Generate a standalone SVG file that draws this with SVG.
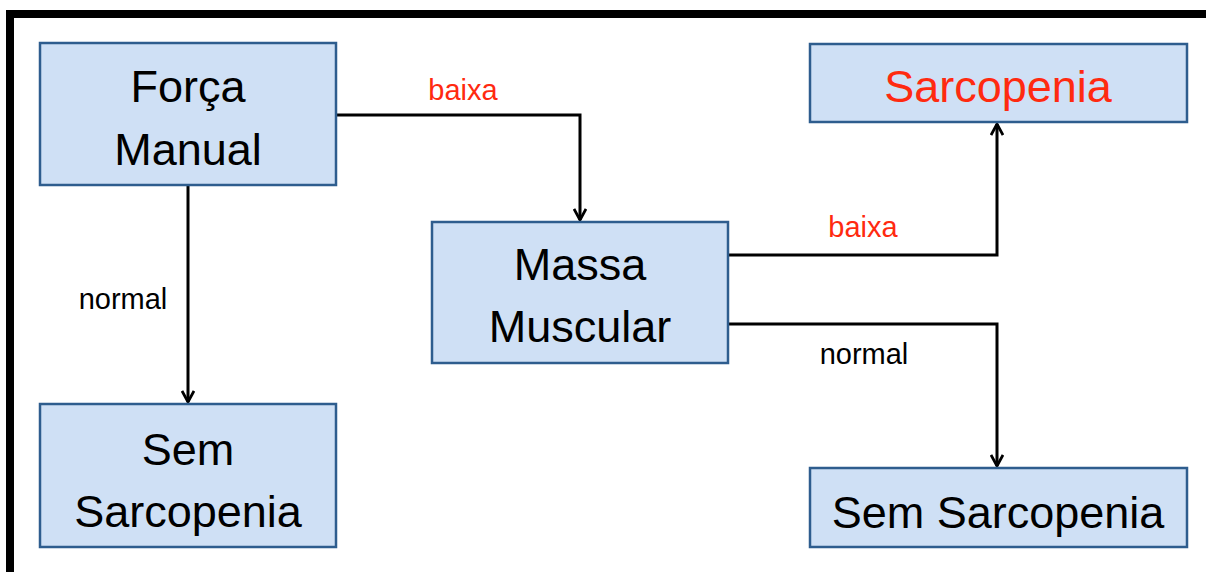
<svg xmlns="http://www.w3.org/2000/svg" width="1206" height="572" viewBox="0 0 1206 572">
<defs>
<marker id="arr" viewBox="0 0 14 14" refX="12" refY="7" markerWidth="14" markerHeight="14" markerUnits="userSpaceOnUse" orient="auto">
<path d="M1,1 L12,7 L1,13" fill="none" stroke="#000" stroke-width="2.8"/>
</marker>
<style>
.box{fill:#cfe0f5;stroke:#2e5d8e;stroke-width:2.5}
.big{font-family:"Liberation Sans",Arial,sans-serif;font-size:45px;fill:#000;text-anchor:middle}
.lbl{font-family:"Liberation Sans",Arial,sans-serif;font-size:29px;fill:#000;text-anchor:middle}
.con{fill:none;stroke:#000;stroke-width:3}
.red{fill:#ff2a10}
</style>
</defs>
<rect width="1206" height="572" fill="#fff"/>
<path d="M10,572 L10,14 L1206,14" fill="none" stroke="#000" stroke-width="8"/>
<g id="connectors">
<path class="con" d="M336,115 L580,115 L580,220" marker-end="url(#arr)"/>
<path class="con" d="M188,185 L188,402" marker-end="url(#arr)"/>
<path class="con" d="M728,255 L997,255 L997,124" marker-end="url(#arr)"/>
<path class="con" d="M728,324 L997,324 L997,466" marker-end="url(#arr)"/>
<text class="lbl red" x="463" y="100">baixa</text>
<text class="lbl" x="123" y="309">normal</text>
<text class="lbl red" x="863" y="237">baixa</text>
<text class="lbl" x="864" y="364">normal</text>
</g>
<g id="forca">
<rect class="box" x="40" y="43" width="296" height="142"/>
<text class="big" x="188" y="102">Força</text>
<text class="big" x="188" y="165">Manual</text>
</g>
<g id="sarcopenia">
<rect class="box" x="810" y="44" width="377" height="78"/>
<text class="big red" x="998" y="102">Sarcopenia</text>
</g>
<g id="massa">
<rect class="box" x="432" y="222" width="296" height="141"/>
<text class="big" x="580" y="280">Massa</text>
<text class="big" x="580" y="342">Muscular</text>
</g>
<g id="sem1">
<rect class="box" x="40" y="404" width="296" height="143"/>
<text class="big" x="188" y="465">Sem</text>
<text class="big" x="188" y="527">Sarcopenia</text>
</g>
<g id="sem2">
<rect class="box" x="810" y="468" width="377" height="79"/>
<text class="big" x="998" y="528">Sem Sarcopenia</text>
</g>
</svg>
